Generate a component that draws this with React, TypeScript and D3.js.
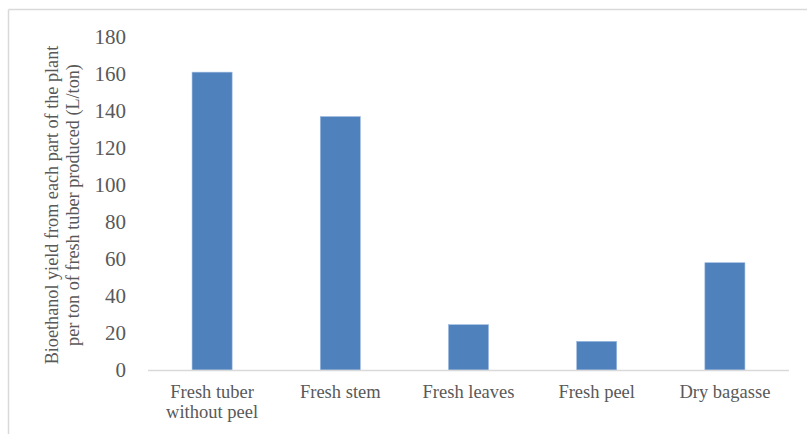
import React from 'react';
import * as d3 from 'd3';

const categories = ['Fresh tuber\nwithout peel', 'Fresh stem', 'Fresh leaves', 'Fresh peel', 'Dry bagasse'];
const yields = [161, 137, 24.5, 15.5, 58];
const yTicks = [0, 20, 40, 60, 80, 100, 120, 140, 160, 180];
const yTitle = ['Bioethanol yield from each part of the plant', 'per ton of fresh tuber produced (L/ton)'];

const W = 807;
const H = 434;
const plot = { left: 148, right: 789, top: 37, bottom: 370 };

const App: React.FC = () => {
  const x = d3.scaleBand<number>()
    .domain(d3.range(categories.length))
    .range([plot.left, plot.right])
    .paddingInner(0.6875)
    .paddingOuter(0.34375);

  const y = d3.scaleLinear()
    .domain([0, 180])
    .range([plot.bottom, plot.top]);

  const font = 'Liberation Serif, Times New Roman, serif';
  const textColor = '#595959';

  return (
    <svg width={W} height={H} style={{ position: 'absolute', left: 0, top: 0, background: '#fff' }}>
      {/* chart frame (only top/left visible) */}
      <line x1={8.5} y1={9.5} x2={W} y2={9.5} stroke="#d9d9d9" strokeWidth={1.5} />
      <line x1={8.5} y1={9.5} x2={8.5} y2={H} stroke="#d9d9d9" strokeWidth={1.5} />

      {/* y tick labels */}
      {yTicks.map(t => (
        <text key={t} x={126} y={y(t)} dy="0.34em" textAnchor="end"
          style={{ fontFamily: font, fontSize: 21 }} fill={textColor}>{t}</text>
      ))}

      {/* y axis title */}
      <g transform={`translate(58,205) rotate(-90)`}>
        {yTitle.map((l, i) => (
          <text key={i} x={0} y={i * 20.5} textAnchor="middle"
            style={{ fontFamily: font, fontSize: 18.2 }} fill={textColor}>{l}</text>
        ))}
      </g>

      {/* bars */}
      {yields.map((v, i) => (
        <rect key={i} x={x(i)} y={y(v)} width={x.bandwidth()} height={y(0) - y(v)}
          fill="#4f81bd" stroke="#9dbbe0" strokeWidth={0.6} />
      ))}

      {/* baseline */}
      <line x1={plot.left} x2={plot.right} y1={y(0) + 0.5} y2={y(0) + 0.5} stroke="#d9d9d9" strokeWidth={1.5} />

      {/* category labels */}
      {categories.map((c, i) => (
        <text key={i} x={(x(i) ?? 0) + x.bandwidth() / 2} y={398} textAnchor="middle"
          style={{ fontFamily: font, fontSize: 18.5 }} fill={textColor}>
          {c.split('\n').map((line, j) => (
            <tspan key={j} x={(x(i) ?? 0) + x.bandwidth() / 2} dy={j === 0 ? 0 : 20}>{line}</tspan>
          ))}
        </text>
      ))}
    </svg>
  );
};

export default App;
